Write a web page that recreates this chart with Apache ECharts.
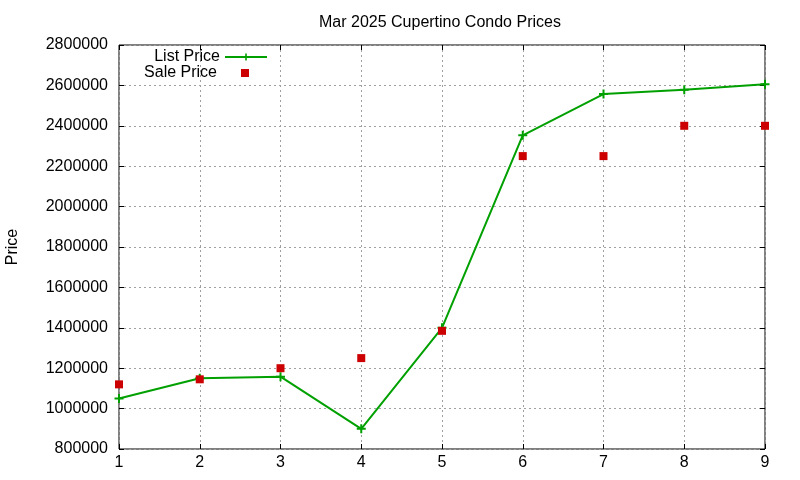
<!DOCTYPE html>
<html>
<head>
<meta charset="utf-8">
<script src="https://cdn.jsdelivr.net/npm/echarts@6/dist/echarts.min.js"></script>
<style>
  html, body { margin: 0; padding: 0; background: #fff; }
  #chart { width: 800px; height: 480px; }
</style>
</head>
<body>
<div id="chart"></div>
<script>
var months = [1, 2, 3, 4, 5, 6, 7, 8, 9];
var listPrice = [1050000, 1150000, 1158000, 900000, 1400000, 2353000, 2557000, 2578000, 2606000];
var salePrice = [1120000, 1145000, 1200000, 1250000, 1385000, 2250000, 2250000, 2400000, 2400000];

var font = 'Liberation Sans, Arial, sans-serif';
var plus = 'path://M3.5,0h2v3.5h3.5v2h-3.5v3.5h-2v-3.5h-3.5v-2h3.5z';

var listData = [];
var saleData = [];
for (var i = 0; i < months.length; i++) {
  listData.push([months[i], listPrice[i]]);
  saleData.push([months[i], salePrice[i]]);
}

var chart = echarts.init(document.getElementById('chart'));

var gridLine = { show: true, lineStyle: { color: '#a0a0a0', type: [2, 3], width: 1 } };

var option = {
  animation: false,
  title: {
    text: 'Mar 2025 Cupertino Condo Prices',
    left: 314,
    top: 10,
    textStyle: { fontFamily: font, fontSize: 16, fontWeight: 'normal', color: '#000' }
  },
  legend: [
    {
      data: ['List Price'],
      right: 527,
      top: 44,
      align: 'right',
      itemWidth: 42,
      itemHeight: 9,
      textStyle: { fontFamily: font, fontSize: 16, color: '#000' }
    },
    {
      data: ['Sale Price'],
      right: 546,
      top: 60,
      align: 'right',
      itemWidth: 8,
      itemHeight: 8,
      textStyle: { fontFamily: font, fontSize: 16, color: '#000', padding: [0, 19, 0, 0] }
    }
  ],
  grid: {
    left: 119, right: 35, top: 45, bottom: 31,
    containLabel: false, outerBoundsMode: 'none',
    show: true, borderColor: '#000', borderWidth: 1
  },
  xAxis: [
    {
      type: 'value', min: 1, max: 9, interval: 1,
      axisLine: { show: false },
      axisTick: { inside: true, length: 5, lineStyle: { color: '#000' } },
      axisLabel: { margin: 6, fontFamily: font, fontSize: 16, color: '#000' },
      splitLine: gridLine
    },
    {
      type: 'value', min: 1, max: 9, interval: 1, position: 'top',
      axisLine: { show: false },
      axisTick: { inside: true, length: 5, lineStyle: { color: '#000' } },
      axisLabel: { show: false },
      splitLine: { show: false }
    }
  ],
  yAxis: [
    {
      type: 'value', min: 800000, max: 2800000, interval: 200000,
      name: 'Price', nameLocation: 'middle', nameGap: 98, nameRotate: 90,
      nameTextStyle: { fontFamily: font, fontSize: 16, color: '#000' },
      axisLine: { show: false },
      axisTick: { show: true, inside: true, length: 5, lineStyle: { color: '#000' } },
      axisLabel: {
        margin: 11, fontFamily: font, fontSize: 16, color: '#000',
        formatter: function (v) { return String(v); }
      },
      splitLine: gridLine
    },
    {
      type: 'value', min: 800000, max: 2800000, interval: 200000, position: 'right',
      axisLine: { show: false },
      axisTick: { show: true, inside: true, length: 5, lineStyle: { color: '#000' } },
      axisLabel: { show: false },
      splitLine: { show: false }
    }
  ],
  series: [
    {
      name: 'List Price',
      type: 'line',
      data: listData,
      symbol: plus,
      symbolSize: 9,
      showAllSymbol: true,
      lineStyle: { color: '#00a000', width: 2 },
      itemStyle: { color: '#00a000' },
      z: 2
    },
    {
      name: 'Sale Price',
      type: 'scatter',
      data: saleData,
      symbol: 'rect',
      symbolSize: 8,
      itemStyle: { color: '#cc0000', opacity: 1 },
      z: 3
    }
  ]
};

chart.setOption(option);
</script>
</body>
</html>
